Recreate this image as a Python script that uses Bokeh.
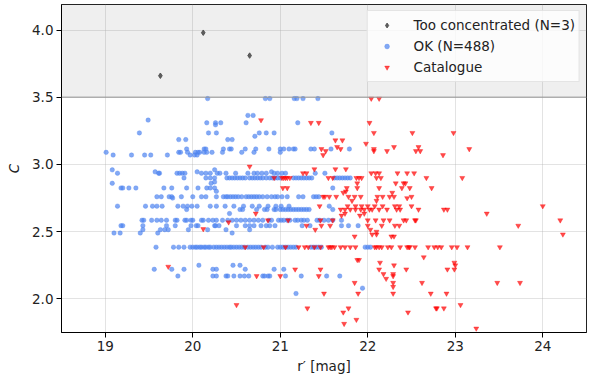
from bokeh.plotting import figure
from bokeh.models import BoxAnnotation, Span, Legend, LegendItem, Range1d, FixedTicker, PrintfTickFormatter
from bokeh.embed import file_html
from bokeh.resources import INLINE

# ---- data ----
too_conc_x = [19.63, 20.12, 20.65]
too_conc_c = [3.66, 3.98, 3.81]

ok_levels = [3.49, 3.365, 3.33, 3.31, 3.295, 3.235, 3.21, 3.185, 3.115, 3.09, 3.07,
             2.96, 2.945, 2.935, 2.90, 2.87, 2.86, 2.825, 2.80, 2.76, 2.75, 2.69, 2.665,
             2.635, 2.585, 2.545, 2.515, 2.49, 2.385, 2.25, 2.22, 2.17, 2.08, 2.04]
ok_x_rows = [
    [20.17, 20.83, 20.88, 21.16, 21.19, 21.26, 21.43],
    [20.63, 20.69],
    [19.49],
    [20.16, 20.26, 20.32, 20.61, 21.2],
    [20.26],
    [19.39, 20.18, 20.27, 20.76, 20.84, 20.93, 21.59],
    [20.71],
    [19.84, 19.92, 20.40, 20.45],
    [19.93, 20.13, 20.15, 20.35, 20.42, 20.44, 20.60, 20.72, 20.87, 21.0, 21.04, 21.10,
     21.15, 21.17, 21.35, 21.39, 21.58, 21.79],
    [19.01, 19.84, 19.86, 19.94, 20.03, 20.06, 20.08, 20.13, 20.16, 20.22, 20.34, 20.56,
     20.70, 21.0],
    [19.09, 19.30, 19.45, 19.52, 19.71, 19.97, 20.02, 20.05],
    [19.08, 20.25],
    [19.57, 20.05, 20.90],
    [19.14, 19.61, 19.62, 19.82, 19.85, 19.88, 19.91, 20.10, 20.15, 20.20, 20.28, 20.31,
     20.38, 20.49, 20.63, 20.70, 20.74, 20.79, 20.84, 20.93, 20.97, 21.02, 21.06, 21.40, 21.51],
    [19.90, 20.15, 20.20, 20.25, 20.39, 20.42, 20.45, 20.48, 20.51, 20.54, 20.57, 20.60,
     20.65, 20.68, 20.71, 20.74, 20.77, 20.80, 20.84, 20.88, 20.91, 20.94, 20.97, 21.0,
     21.15, 21.18, 21.21, 21.24, 21.27, 21.30, 21.33, 21.36, 21.62, 21.65, 21.68, 21.71,
     21.74, 21.77, 21.80],
    [20.25],
    [19.08, 20.21],
    [19.18, 19.20, 19.27, 19.35, 19.67, 19.76, 19.93, 20.06, 20.16, 20.20, 20.25, 21.60],
    [20.27],
    [19.59, 19.64, 19.73, 19.76, 19.87, 20.0, 20.10, 20.15, 20.27, 20.35, 20.38, 20.40,
     20.43, 20.46, 20.49, 20.52, 20.56, 20.61, 20.64, 20.67, 20.70, 20.73, 20.76, 20.80,
     20.85, 20.90, 20.94, 20.97, 21.02, 21.08, 21.21, 21.26, 21.38, 21.41, 21.44],
    [19.77],
    [19.14, 19.46, 19.54, 19.59, 19.65, 19.83, 19.89, 19.94, 19.99, 20.05, 20.20, 20.27,
     20.37, 20.47, 20.58, 20.68, 20.76, 20.86, 20.95, 21.01, 21.10, 21.56],
    [19.93, 20.54, 20.57, 20.73, 20.82, 20.85, 20.93, 20.95, 21.0, 21.03, 21.06, 21.09,
     21.12, 21.15, 21.18, 21.21, 21.24, 21.27, 21.30, 21.33, 21.6],
    [20.42],
    [19.42, 19.44, 19.53, 19.59, 19.64, 19.70, 19.80, 19.82, 19.91, 19.93, 19.98, 20.0,
     20.10, 20.12, 20.18, 20.23, 20.27, 20.34, 20.4, 20.45, 20.5, 20.55, 20.6, 20.65,
     20.7, 20.75, 20.8, 20.87, 20.9, 20.98, 21.01, 21.04, 21.08, 21.11, 21.17, 21.2,
     21.24, 21.27, 21.31, 21.42, 21.45, 21.5, 21.55, 21.6, 21.7],
    [19.18, 19.2, 19.43, 19.7, 19.8, 19.98, 20.04, 20.06, 20.25, 20.26, 20.3, 20.5,
     20.6, 20.65, 20.7, 20.78, 20.84, 20.88, 20.94, 21.25, 21.34, 21.7, 21.78, 21.89],
    [19.43, 19.63, 19.68, 19.72, 19.95, 20.17, 20.38, 20.65],
    [19.1, 19.17, 19.4, 19.6, 20.45],
    [19.58, 19.78, 19.84, 19.9, 19.97, 20.0, 20.03, 20.05, 20.08, 20.1, 20.13, 20.15,
     20.18, 20.2, 20.24, 20.27, 20.3, 20.33, 20.36, 20.39, 20.42, 20.44, 20.47, 20.5,
     20.53, 20.56, 20.59, 20.63, 20.66, 20.69, 20.72, 20.75, 20.78, 20.83, 20.86, 20.91,
     20.97, 21.0, 21.03, 21.06, 21.09, 21.12, 21.15, 21.18, 21.35, 21.38, 21.41, 21.44,
     21.47, 21.97, 22.0, 22.03],
    [20.07, 20.46, 20.54],
    [19.56, 19.76, 19.9, 20.23, 20.27, 20.6, 20.93, 21.04],
    [19.83, 20.23, 20.27, 20.38, 20.40, 20.47, 20.54, 20.59, 20.64, 20.80, 20.82, 20.86,
     20.88, 21.06, 21.24, 21.53, 21.68],
    [21.94],
    [21.18],
]

cat_levels = [3.49, 3.33, 3.31, 3.235, 3.18, 3.155, 3.13, 3.115, 3.10, 3.07, 2.985, 2.965,
              2.935, 2.90, 2.86, 2.825, 2.80, 2.79, 2.76, 2.75, 2.73, 2.69, 2.665, 2.635,
              2.62, 2.585, 2.57, 2.545, 2.52, 2.515, 2.50, 2.48, 2.465, 2.385, 2.31, 2.29,
              2.27, 2.25, 2.24, 2.22, 2.185, 2.17, 2.15, 2.12, 2.09, 2.04, 1.955, 1.93,
              1.90, 1.845, 1.815, 1.78]
cat_x_rows = [
    [22.04, 22.13],
    [20.78],
    [21.35, 21.44, 22.02],
    [22.07, 22.51, 22.98],
    [21.63, 21.71],
    [21.98],
    [21.65, 22.3, 22.58],
    [21.47, 21.69, 22.07, 23.16],
    [21.52, 22.07, 22.22, 22.55, 22.6],
    [21.49, 22.86],
    [20.65],
    [21.39, 21.63, 21.75],
    [21.26, 21.30, 22.04, 22.09, 22.13, 22.34, 22.45, 22.53],
    [20.93, 21.02, 21.04, 21.06, 21.08, 21.11, 21.55, 21.6, 21.87, 21.9, 21.93, 22.1,
     22.15, 22.67, 23.08],
    [21.88, 22.32, 22.41, 22.43],
    [21.03, 21.08, 21.76, 21.88, 22.13, 22.39, 22.48, 22.73],
    [21.75],
    [21.72, 22.28],
    [21.49, 21.51, 21.56, 21.64, 21.78, 21.85, 21.92, 22.11, 22.17, 22.25, 22.3, 22.5],
    [22.45],
    [21.82, 22.1],
    [21.45, 21.77, 21.86, 21.93, 22.0, 22.08, 22.17, 22.31, 22.36, 22.5, 24.0],
    [21.69, 21.74, 21.8, 21.86, 21.92, 21.96, 22.02, 22.05, 22.13, 22.22, 22.33, 22.37,
     22.58, 22.87, 22.91],
    [20.72, 21.74, 21.96, 23.36],
    [21.70, 21.91],
    [20.86, 21.09, 21.46, 21.60, 22.0, 22.09, 22.18, 22.25, 22.41, 22.44, 22.54, 22.55, 24.2],
    [20.41],
    [21.3, 21.47, 21.57, 22.0, 22.16, 22.31, 22.36, 23.72],
    [20.12],
    [21.40, 22.03],
    [22.1],
    [22.05, 22.1, 24.23],
    [21.85, 22.27, 22.3],
    [20.6, 20.81, 21.06, 21.21, 21.28, 21.32, 21.39, 21.46, 21.55, 21.57, 21.59, 21.62,
     21.69, 21.74, 21.8, 21.86, 22.08, 22.1, 22.13, 22.16, 22.23, 22.27, 22.37, 22.45,
     22.47, 22.48, 22.54, 22.69, 22.76, 22.8, 22.84, 22.96, 23.02, 23.14, 23.51],
    [22.64],
    [21.88, 21.9],
    [22.14, 22.99],
    [22.3, 23.0],
    [19.72],
    [21.17, 21.46, 22.13, 22.44, 22.91, 22.99],
    [22.18, 22.29],
    [20.73, 21.0, 21.44, 22.29],
    [22.21],
    [21.85, 22.29, 22.62, 23.48, 23.74],
    [22.29],
    [21.5, 21.89, 22.29, 22.72, 22.9],
    [20.5, 23.06],
    [21.31, 21.78, 22.78, 22.79, 22.87],
    [21.72, 22.46],
    [21.87],
    [21.73],
    [23.24],
]

x_ticks = [19, 20, 21, 22, 23, 24]
y_ticks = [2.0, 2.5, 3.0, 3.5, 4.0]
threshold = 3.5

ok_x, ok_c = [], []
for lev, xs in zip(ok_levels, ok_x_rows):
    ok_x += xs
    ok_c += [lev] * len(xs)
cat_x, cat_c = [], []
for lev, xs in zip(cat_levels, cat_x_rows):
    cat_x += xs
    cat_c += [lev] * len(xs)

FONT = "DejaVu Sans"

p = figure(width=587, height=376, output_backend="svg", toolbar_location=None,
           x_range=Range1d(18.5, 24.5), y_range=Range1d(1.75, 4.19),
           min_border_left=61, min_border_right=1, min_border_top=4, min_border_bottom=4)
p.background_fill_color = "white"
p.border_fill_color = "white"
p.outline_line_color = "#222222"
p.outline_line_width = 1

band = BoxAnnotation(bottom=threshold, fill_color="#808080", fill_alpha=0.13, line_color=None, level="underlay")
p.add_layout(band)
p.add_layout(Span(location=threshold, dimension="width", line_color="#999999", line_width=1.5, line_alpha=0.7))

r_ok = p.scatter(ok_x, ok_c, marker="circle", size=4.5, fill_color="#4f84f0", line_color="#4f84f0",
                 fill_alpha=0.7, line_alpha=0.7, line_width=0.5)
r_cat = p.scatter(cat_x, cat_c, marker="inverted_triangle", size=5, fill_color="red", line_color="red",
                  fill_alpha=0.7, line_alpha=0.7, line_width=0.5)
r_tc = p.scatter(too_conc_x, too_conc_c, marker="diamond", size=5.5, fill_color="#4d4d4d",
                 line_color="#4d4d4d", fill_alpha=0.9, line_alpha=0.9)

for ax in (p.xaxis, p.yaxis):
    ax.major_label_text_font = FONT
    ax.major_label_text_font_size = "13.5px"
    ax.major_label_text_color = "#222222"
    ax.axis_label_text_font = FONT
    ax.axis_label_text_font_size = "13.5px"
    ax.axis_label_text_color = "#222222"
    ax.axis_line_color = "black"
    ax.major_tick_line_color = "black"
    ax.major_tick_out = 5
    ax.major_tick_in = 0
    ax.minor_tick_line_color = None
    ax.major_label_standoff = 3

p.xaxis.ticker = FixedTicker(ticks=x_ticks)
p.yaxis.ticker = FixedTicker(ticks=y_ticks)
p.yaxis.formatter = PrintfTickFormatter(format="%.1f")
p.xaxis.axis_label = "r′ [mag]"
p.xaxis.axis_label_text_font_style = "normal"
p.xaxis.axis_label_standoff = 4
p.yaxis.axis_label = "C"
p.yaxis.axis_label_text_font_style = "italic"
p.yaxis.axis_label_standoff = 7

p.grid.grid_line_color = "#b0b0b0"
p.grid.grid_line_alpha = 0.35
p.grid.grid_line_width = 1
p.xgrid.ticker = FixedTicker(ticks=x_ticks)
p.ygrid.ticker = FixedTicker(ticks=y_ticks)

legend = Legend(items=[
    LegendItem(label="Too concentrated (N=3)", renderers=[r_tc]),
    LegendItem(label="OK (N=488)", renderers=[r_ok]),
    LegendItem(label="Catalogue", renderers=[r_cat]),
], location="top_right")
legend.label_text_font = FONT
legend.label_text_font_size = "13.5px"
legend.label_text_color = "#222222"
legend.background_fill_color = "white"
legend.background_fill_alpha = 0.8
legend.border_line_color = "#cccccc"
legend.border_line_width = 1
legend.padding = 4
legend.margin = 6
legend.spacing = 1
legend.glyph_width = 30
legend.glyph_height = 12
legend.label_height = 20
legend.label_standoff = 12
p.add_layout(legend)

open("out.html", "w").write(file_html(p, INLINE))
